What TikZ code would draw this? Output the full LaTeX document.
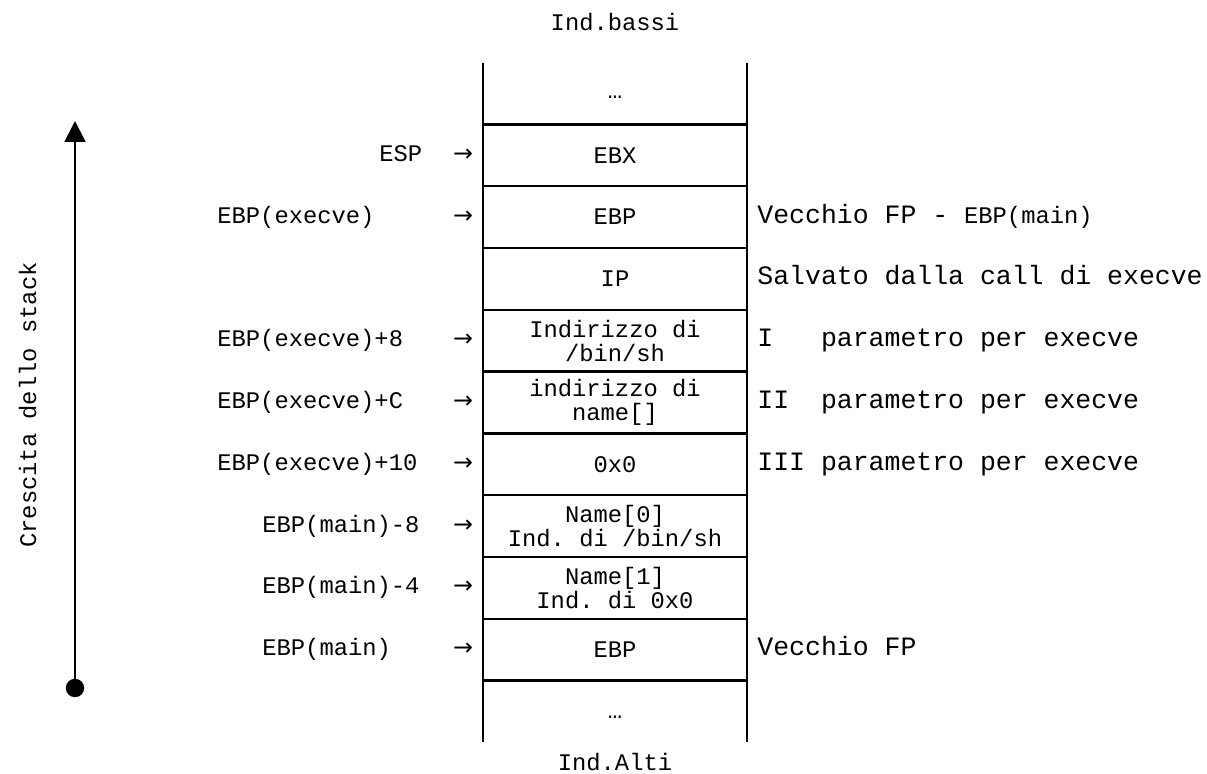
\documentclass[tikz,border=0pt]{standalone}
\usepackage{fontspec}
\setmonofont{Liberation Mono}
\newfontfamily\symfont{DejaVu Sans}
\usepackage{tikz}
\usetikzlibrary{arrows.meta,positioning}

\begin{document}
\begin{tikzpicture}[
  x=0.5pt, y=-0.5pt,
  node distance=0pt,
  cell/.style={minimum width=132pt, minimum height=30.9pt, inner sep=0pt, outer sep=0pt, align=center, font=\ttfamily\fontsize{11.9}{12}\selectfont},
  lbl/.style={inner sep=0pt, text height=0.6em, text depth=0pt, font=\ttfamily\fontsize{11.9}{14}\selectfont},
  ptr/.style={inner sep=0pt, text height=0.6em, text depth=0pt, font=\symfont\fontsize{11.9}{14}\selectfont},
  note/.style={inner sep=0pt, anchor=west, text height=0.6em, text depth=0pt, font=\ttfamily\fontsize{13.25}{15}\selectfont},
  wall/.style={line width=1.2pt},
  growth/.style={line width=1pt, -{Triangle[length=10.5pt,width=10.5pt]}}
]
\useasboundingbox (0,0) rectangle (1207,774);

% stack cells
\node[cell] (dtop) at (615,93.5) {\smash{\lower2.5pt\hbox{…}}};
\node[cell, below=of dtop] (ebx) {EBX};
\node[cell, below=of ebx] (ebpx) {EBP};
\node[cell, below=of ebpx] (ip) {IP};
\node[cell, below=of ip] (arg1) {Indirizzo di\\/bin/sh};
\node[cell, below=of arg1] (arg2) {indirizzo di\\name[]};
\node[cell, below=of arg2] (arg3) {0x0};
\node[cell, below=of arg3] (name0) {Name[0]\\Ind. di /bin/sh};
\node[cell, below=of name0] (name1) {Name[1]\\Ind. di 0x0};
\node[cell, below=of name1] (ebpm) {EBP};
\node[cell, below=of ebpm] (dbot) {\smash{\lower3.5pt\hbox{…}}};

\draw[wall] (dtop.north west) -- (dbot.south west);
\draw[wall] (dtop.north east) -- (dbot.south east);
\foreach \c in {ebx,ebpx,ip,arg1,arg2,arg3,name0,name1,ebpm,dbot}
  \draw[wall] (\c.north west) -- (\c.north east);

\node[lbl, above=16pt of dtop] (low) {Ind.bassi};
\node[lbl, below=8pt of dbot] (high) {Ind.Alti};

% pointers on the left
\coordinate (tabs) at (379,0);
\coordinate (tabx) at (217,0);
\coordinate (tabm) at (262,0);
\coordinate (arrcol) at (463,0);
\foreach \c in {ebx,ebpx,arg1,arg2,arg3,name0,name1,ebpm}
  \node[ptr] (p\c) at (arrcol |- \c) {→};
\node[lbl, anchor=west] (lesp) at (tabs |- ebx) {ESP};
\node[lbl, anchor=west] (lebpx) at (tabx |- ebpx) {EBP(execve)};
\node[lbl, anchor=west] (larg1) at (tabx |- arg1) {EBP(execve)+8};
\node[lbl, anchor=west] (larg2) at (tabx |- arg2) {EBP(execve)+C};
\node[lbl, anchor=west] (larg3) at (tabx |- arg3) {EBP(execve)+10};
\node[lbl, anchor=west] (lname0) at (tabm |- name0) {EBP(main)-8};
\node[lbl, anchor=west] (lname1) at (tabm |- name1) {EBP(main)-4};
\node[lbl, anchor=west] (lebpm) at (tabm |- ebpm) {EBP(main)};

% notes on the right
\coordinate (notex) at (757,0);
\node[note] (nebpx) at (notex |- ebpx) {Vecchio FP - {\fontsize{11.9}{14}\selectfont EBP(main)}};
\node[note] (nip) at (notex |- ip) {Salvato dalla call di execve};
\node[note] (narg1) at (notex |- arg1) {I\ \ \ parametro per execve};
\node[note] (narg2) at (notex |- arg2) {II\ \ parametro per execve};
\node[note] (narg3) at (notex |- arg3) {III parametro per execve};
\node[note] (nebpm) at (notex |- ebpm) {Vecchio FP};

% growth of the stack
\node[lbl, rotate=90] (grow) at (30,405) {Crescita dello stack};
\coordinate (gbot) at (75,688);
\coordinate (gtop) at (75,121);
\draw[growth] (gbot) -- (gtop);
\fill (gbot) circle (4.6pt);
\end{tikzpicture}
\end{document}
